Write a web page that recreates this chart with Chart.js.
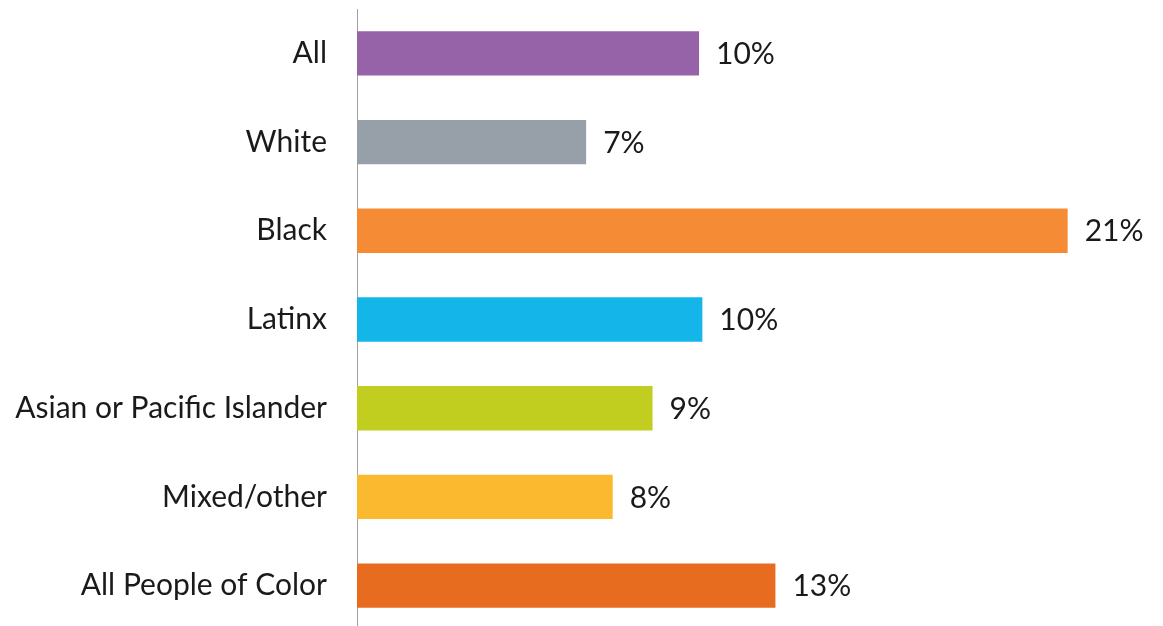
<!DOCTYPE html>
<html>
<head>
<meta charset="utf-8">
<script src="https://cdn.jsdelivr.net/npm/chart.js@4"></script>
<style>
  html, body { margin: 0; padding: 0; background: #fff; overflow: hidden; }
  #wrap { position: absolute; left: 0; top: 0; width: 1163px; height: 630px; }
</style>
</head>
<body>
<div id="wrap"><canvas id="chart" width="1163" height="630" style="width:1163px;height:630px"></canvas></div>
<script>
const categories = ['All', 'White', 'Black', 'Latinx', 'Asian or Pacific Islander', 'Mixed/other', 'All People of Color'];
const shares = [10.3, 6.9, 21.4, 10.4, 8.9, 7.7, 12.6];
const shareLabels = ['10%', '7%', '21%', '10%', '9%', '8%', '13%'];
const barColors = ['#9663a9', '#97a0a8', '#f58b34', '#14b5e8', '#c1ce20', '#fbb92f', '#e76c20'];

const FONT = 'Lato, "Open Sans", sans-serif';
const FONT_SIZE = 30;

// draws the value text next to each bar
const valueLabels = {
    id: 'valueLabels',
    afterDatasetsDraw(chart) {
        const ctx = chart.ctx;
        const meta = chart.getDatasetMeta(0);
        ctx.save();
        ctx.font = FONT_SIZE + 'px ' + FONT;
        ctx.fillStyle = '#1a1a1a';
        ctx.textAlign = 'left';
        ctx.textBaseline = 'middle';
        meta.data.forEach((bar, i) => {
            ctx.fillText(shareLabels[i], bar.x + 17, bar.y + 1);
        });
        ctx.restore();
    }
};

new Chart(document.getElementById('chart').getContext('2d'), {
    type: 'bar',
    data: {
        labels: categories,
        datasets: [{
            data: shares,
            backgroundColor: barColors,
            categoryPercentage: 0.5,
            barPercentage: 1.0
        }]
    },
    options: {
        indexAxis: 'y',
        responsive: false,
        maintainAspectRatio: false,
        animation: false,
        layout: { padding: { top: 9, right: 9, bottom: 0, left: 0 } },
        plugins: {
            legend: { display: false },
            tooltip: { enabled: false }
        },
        scales: {
            x: {
                display: false,
                min: 0,
                max: 24
            },
            y: {
                afterFit(scale) {
                    scale.width = 357;
                    // tick padding also pads top/bottom, drop that
                    scale.paddingTop = 0;
                    scale.paddingBottom = 0;
                },
                grid: { display: false, drawTicks: false },
                border: { display: true, color: '#a0a0a0', width: 1 },
                ticks: {
                    padding: 30,
                    color: '#1a1a1a',
                    font: { family: FONT, size: FONT_SIZE }
                }
            }
        }
    },
    plugins: [valueLabels]
});
</script>
</body>
</html>
